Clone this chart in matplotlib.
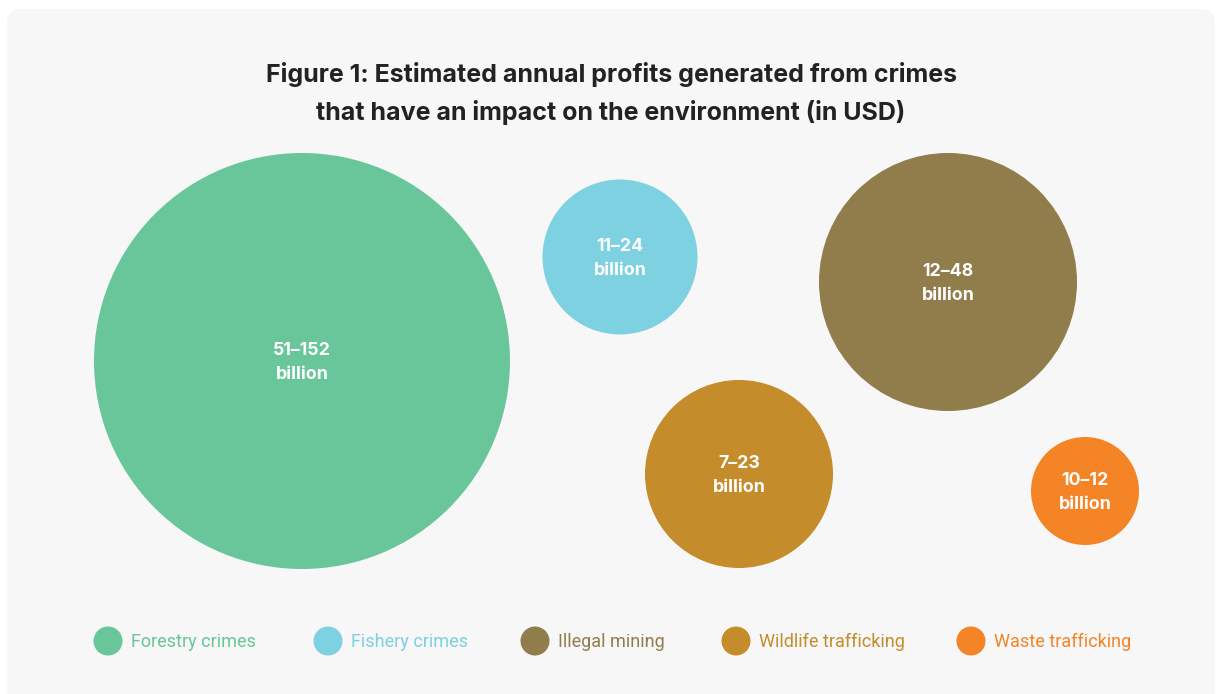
import matplotlib
matplotlib.use("Agg")
import matplotlib.pyplot as plt
from matplotlib.patches import Circle, FancyBboxPatch

# data
categories = ["Forestry crimes", "Fishery crimes", "Illegal mining",
              "Wildlife trafficking", "Waste trafficking"]
low_bn = [51, 11, 12, 7, 10]
high_bn = [152, 24, 48, 23, 12]
colours = ["#68c69a", "#7dd1e1", "#917c4c", "#c48c2b", "#f58426"]

# bubble layout (pixels, y downward)
bubble_x = [302, 620, 948, 739, 1085]
bubble_y = [361, 257, 282, 474, 491]
bubble_r = [208, 77.5, 129, 94, 54]

# legend layout
legend_x = [108, 328, 535, 736, 971]
legend_y = 641

W, H = 1216, 694
fig = plt.figure(figsize=(W / 100, H / 100), dpi=100)
ax = fig.add_axes([0, 0, 1, 1])
ax.set_xlim(0, W)
ax.set_ylim(H, 0)
ax.set_aspect("equal")
ax.axis("off")
fig.patch.set_facecolor("white")

# card background
bg = FancyBboxPatch((7, 9), 1208, 700, boxstyle="round,pad=0,rounding_size=14",
                    facecolor="#f7f7f7", edgecolor="none")
ax.add_patch(bg)

ax.text(611, 74, "Figure 1: Estimated annual profits generated from crimes",
        ha="center", va="center", fontsize=18, fontweight="bold",
        family="Inter", color="#222222")
ax.text(611, 112, "that have an impact on the environment (in USD)",
        ha="center", va="center", fontsize=18, fontweight="bold",
        family="Inter", color="#222222")

for x, y, r, c, lo, hi in zip(bubble_x, bubble_y, bubble_r, colours, low_bn, high_bn):
    ax.add_patch(Circle((x, y), r, facecolor=c, edgecolor="none"))
    ax.text(x, y - 11, f"{lo}\u2013{hi}", ha="center", va="center",
            fontsize=12.8, fontweight="bold", family="Inter", color="white")
    ax.text(x, y + 13, "billion", ha="center", va="center",
            fontsize=12.8, fontweight="bold", family="Inter", color="white")

for lx, c, name in zip(legend_x, colours, categories):
    ax.add_patch(Circle((lx, legend_y), 14.5, facecolor=c, edgecolor="none"))
    ax.text(lx + 23, legend_y + 1, name, ha="left", va="center",
            fontsize=13, family="Roboto", color=c)

fig.savefig("out.png", dpi=100)
plt.close(fig)
